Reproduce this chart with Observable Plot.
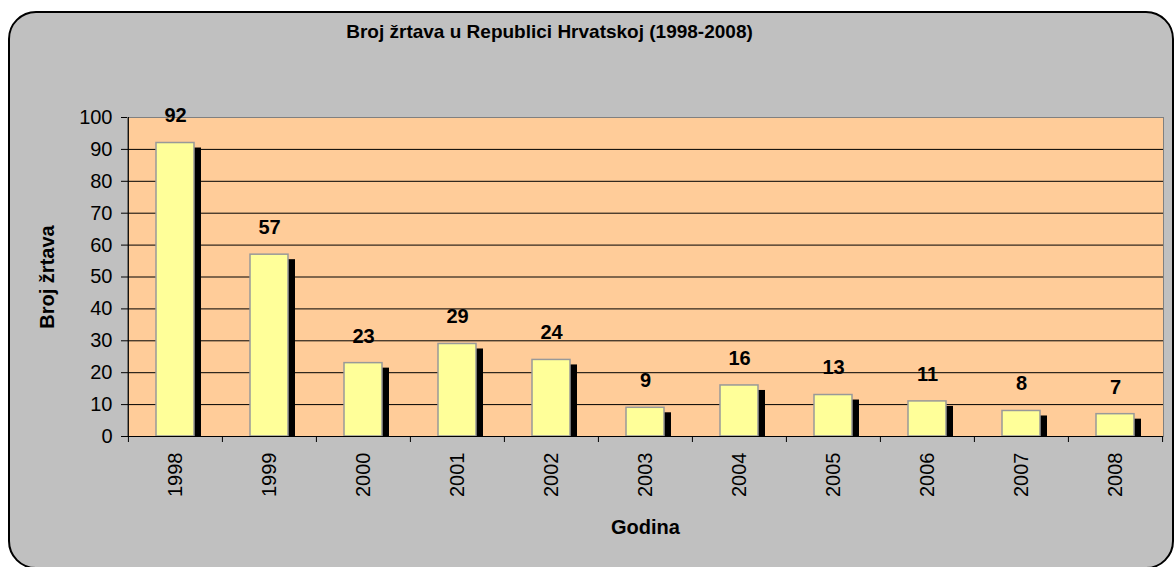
<!DOCTYPE html>
<html>
<head>
<meta charset="utf-8">
<script src="https://cdn.jsdelivr.net/npm/d3@7"></script>
<script src="https://cdn.jsdelivr.net/npm/@observablehq/plot@0.6"></script>
<style>
  html, body { margin: 0; padding: 0; background: #ffffff; width: 1175px; height: 567px; overflow: hidden; }
  #bg { position: absolute; left: 8px; top: 11px; width: 1166px; height: 558px; box-sizing: border-box;
        background: #C0C0C0; border: 2px solid #000; border-radius: 28px; }
  #chart { position: absolute; left: 0; top: 0; }
</style>
</head>
<body>
<div id="bg"></div>
<div id="chart"></div>
<script>
const title = "Broj žrtava u Republici Hrvatskoj (1998-2008)";
const yLabel = "Broj žrtava";
const xLabel = "Godina";
const years = ["1998", "1999", "2000", "2001", "2002", "2003", "2004", "2005", "2006", "2007", "2008"];
const victims = [92, 57, 23, 29, 24, 9, 16, 13, 11, 8, 7];
const yTicks = [0, 10, 20, 30, 40, 50, 60, 70, 80, 90, 100];

const data = years.map((year, i) => ({year, value: victims[i]}));

const W = 1175, H = 567, mL = 127, mR = 12, mT = 117, mB = 131;
const step = (W - mL - mR) / years.length;
const font = "'Liberation Sans', Arial, sans-serif";

const chart = Plot.plot({
  width: W,
  height: H,
  marginLeft: mL,
  marginRight: mR,
  marginTop: mT,
  marginBottom: mB,
  style: {background: "transparent", fontFamily: font, color: "black", overflow: "visible"},
  x: {domain: years, paddingInner: 0.6, paddingOuter: 0.3, label: null},
  y: {domain: [0, 100], label: null},
  marks: [
    Plot.frame({fill: "#FFCC99", stroke: "#808080"}),
    Plot.ruleY(yTicks.filter(t => t > 0 && t < 100), {stroke: "#000", strokeWidth: 1}),
    Plot.barY(data, {x: "year", y: "value", fill: "#000", dx: 7, dy: 5, clip: true}),
    Plot.barY(data, {x: "year", y: "value", fill: "#FFFF99", stroke: "#999999", strokeWidth: 1.5}),
    Plot.ruleY([0], {stroke: "#000"}),
    Plot.ruleX([years[0]], {dx: -step / 2, stroke: "#000"}),
    Plot.ruleX(years, {dx: -step / 2, y1: 0, y2: 0, insetBottom: -6, stroke: "#000"}),
    Plot.ruleX([years[years.length - 1]], {dx: step / 2, y1: 0, y2: 0, insetBottom: -6, stroke: "#000"}),
    Plot.axisY({ticks: yTicks, tickSize: 6, tickPadding: 9, fontSize: 20, label: null}),
    Plot.axisX({tickSize: 0, tickRotate: -90, tickPadding: 16, fontSize: 20, label: null}),
    Plot.text(data, {x: "year", y: "value", text: d => String(d.value), dy: -27, fontSize: 20, fontWeight: "bold", fill: "#000"}),
    Plot.text([yLabel], {text: d => d, frameAnchor: "left", rotate: -90, dx: -80, textAnchor: "middle", lineAnchor: "middle", fontSize: 20, fontWeight: "bold", fill: "#000"}),
    Plot.text([xLabel], {text: d => d, frameAnchor: "bottom", dy: 91, lineAnchor: "middle", fontSize: 20, fontWeight: "bold", fill: "#000"}),
    Plot.text([title], {text: d => d, frameAnchor: "top", dx: -96, dy: -86, lineAnchor: "middle", fontSize: 19, fontWeight: "bold", fill: "#000"})
  ]
});
document.getElementById("chart").appendChild(chart);
</script>
</body>
</html>
